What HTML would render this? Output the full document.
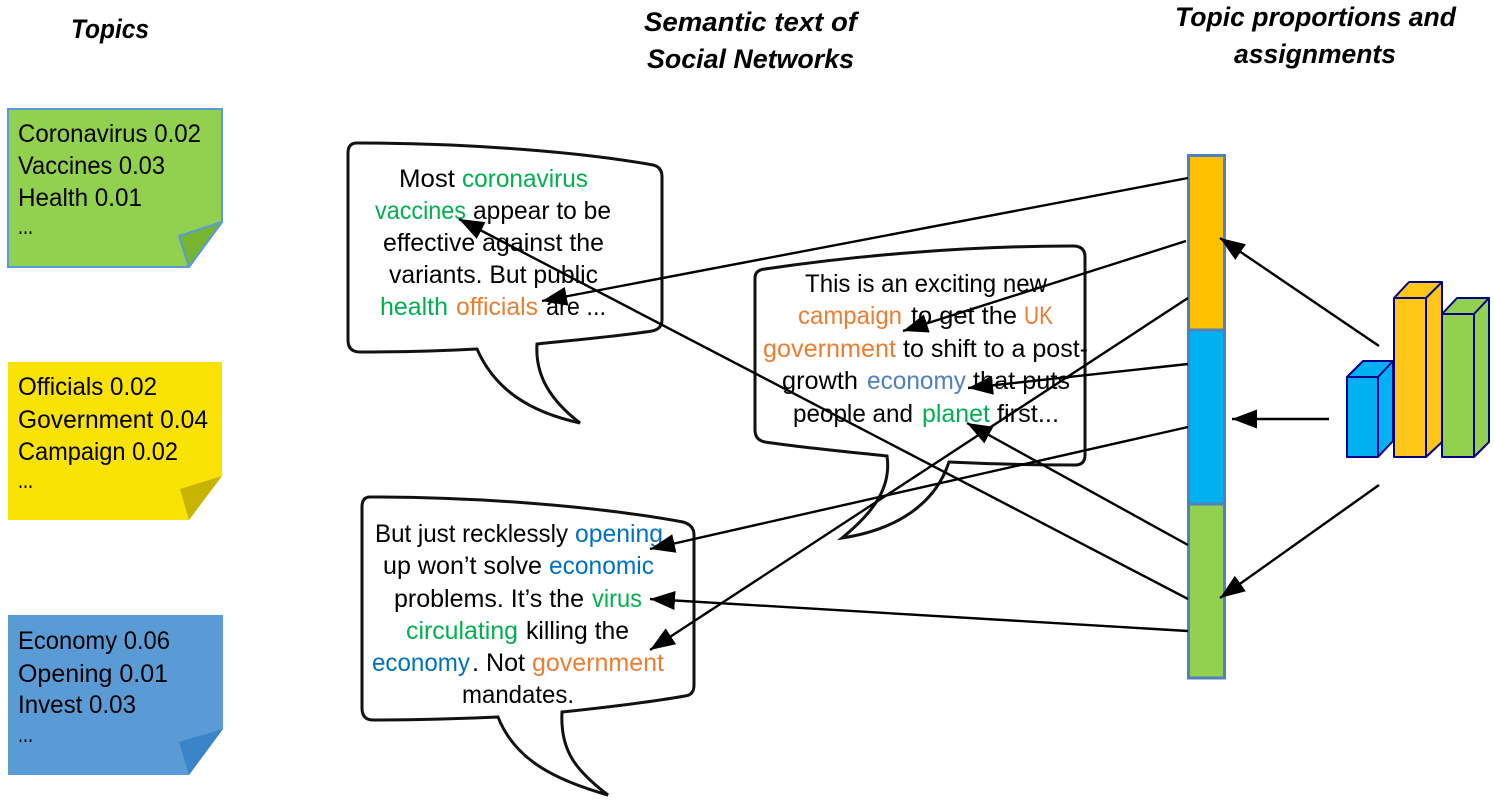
<!DOCTYPE html>
<html><head><meta charset="utf-8">
<style>
html,body{margin:0;padding:0;background:#fff;}
svg{display:block;filter:blur(0.3px);}
text{font-family:"Liberation Sans",sans-serif;font-size:25px;fill:#000;}
.t{font-weight:bold;font-style:italic;font-size:27px;fill:#000;}
.g{fill:#00b050;}.o{fill:#ed7d31;}.b{fill:#0070c0;}.e{fill:#4f81bd;}
.bub{fill:#fff;stroke:#111;stroke-width:3;stroke-linejoin:miter;}
.ln{stroke:#000;stroke-width:2.4;fill:none;}
.bar{stroke:#00008b;stroke-width:2;stroke-linejoin:round;}
</style></head>
<body>
<svg width="1494" height="807" viewBox="0 0 1494 807" xmlns="http://www.w3.org/2000/svg">
<defs><marker id="a" markerUnits="userSpaceOnUse" markerWidth="27" markerHeight="20" refX="25" refY="9.5" orient="auto"><path d="M0,0 L25,9.5 L0,19 Z" fill="#000"/></marker></defs>

<!-- titles -->
<text class="t" x="71" y="38" textLength="78" lengthAdjust="spacingAndGlyphs">Topics</text>
<text class="t" x="644" y="31" textLength="213" lengthAdjust="spacingAndGlyphs">Semantic text of</text>
<text class="t" x="647" y="68" textLength="207" lengthAdjust="spacingAndGlyphs">Social Networks</text>
<text class="t" x="1175" y="26" textLength="281" lengthAdjust="spacingAndGlyphs">Topic proportions and</text>
<text class="t" x="1234" y="63" textLength="162" lengthAdjust="spacingAndGlyphs">assignments</text>

<!-- sticky notes -->
<path d="M8,109 H222 V222 L189,267 H8 Z" fill="#92d050" stroke="#5b9bd5" stroke-width="2"/>
<path d="M222,222 L189,267 L179,236 Z" fill="#76b531" stroke="#5b9bd5" stroke-width="2" stroke-linejoin="round"/>
<text x="18" y="142" textLength="183" lengthAdjust="spacingAndGlyphs">Coronavirus 0.02</text>
<text x="18" y="174" textLength="147" lengthAdjust="spacingAndGlyphs">Vaccines 0.03</text>
<text x="18" y="206" textLength="124" lengthAdjust="spacingAndGlyphs">Health 0.01</text>
<text x="18" y="234" textLength="15" lengthAdjust="spacingAndGlyphs">...</text>

<path d="M8,362 H222 V476 L189,520 H8 Z" fill="#fae205"/>
<path d="M222,476 L189,520 L180,489 Z" fill="#c8b400"/>
<text x="18" y="395" textLength="139" lengthAdjust="spacingAndGlyphs">Officials 0.02</text>
<text x="18" y="428" textLength="190" lengthAdjust="spacingAndGlyphs">Government 0.04</text>
<text x="18" y="460" textLength="160" lengthAdjust="spacingAndGlyphs">Campaign 0.02</text>
<text x="18" y="488" textLength="15" lengthAdjust="spacingAndGlyphs">...</text>

<path d="M8,615 H223 V729 L189,775 H8 Z" fill="#5b9bd5"/>
<path d="M223,729 L189,775 L179,742 Z" fill="#3a84c9"/>
<text x="18" y="649" textLength="152" lengthAdjust="spacingAndGlyphs">Economy 0.06</text>
<text x="18" y="682" textLength="150" lengthAdjust="spacingAndGlyphs">Opening  0.01</text>
<text x="18" y="713" textLength="118" lengthAdjust="spacingAndGlyphs">Invest 0.03</text>
<text x="18" y="742" textLength="15" lengthAdjust="spacingAndGlyphs">...</text>

<!-- bubbles -->
<path class="bub" d="M357,143 C450,143 570,150 653,165 Q662,167 662,177 V320 Q662,329 652,331 C620,336 575,340 537,344 C535,375 550,400 580,423 C530,412 495,390 477,349 C440,351 400,352 360,352 Q348,352 348,340 V153 Q348,143 357,143 Z"/>
<path class="bub" d="M765,269 C860,255 970,246 1073,246 Q1085,246 1085,257 V455 Q1085,465 1075,465 C1030,465 990,464 949,462 C935,505 895,530 842,538 C870,515 892,490 887,456 C850,452 805,448 765,442 Q755,440 755,430 V278 Q755,270 765,269 Z"/>
<path class="bub" d="M370,497 C470,497 590,505 683,522 Q694,525 694,535 V685 Q694,695 685,696 C645,703 600,708 562,712 C560,750 575,770 608,795 C555,780 515,760 498,717 C455,719 415,720 373,720 Q362,720 362,708 V507 Q362,497 370,497 Z"/>

<!-- bubble 1 text -->
<text x="399" y="187" textLength="56" lengthAdjust="spacingAndGlyphs">Most</text>
<text class="g" x="462" y="187" textLength="126" lengthAdjust="spacingAndGlyphs">coronavirus</text>
<text class="g" x="375" y="219" textLength="91" lengthAdjust="spacingAndGlyphs">vaccines</text>
<text x="473" y="219" textLength="138" lengthAdjust="spacingAndGlyphs">appear to be</text>
<text x="383" y="251" textLength="221" lengthAdjust="spacingAndGlyphs">effective against the</text>
<text x="389" y="283" textLength="209" lengthAdjust="spacingAndGlyphs">variants. But public</text>
<text class="g" x="380" y="315" textLength="68" lengthAdjust="spacingAndGlyphs">health</text>
<text class="o" x="456" y="315" textLength="82" lengthAdjust="spacingAndGlyphs">officials</text>
<text x="546" y="315" textLength="60" lengthAdjust="spacingAndGlyphs">are ...</text>

<!-- bubble 2 text -->
<text x="805" y="292" textLength="242" lengthAdjust="spacingAndGlyphs">This is an exciting new</text>
<text class="o" x="798" y="324" textLength="104" lengthAdjust="spacingAndGlyphs">campaign</text>
<text x="911" y="324" textLength="106" lengthAdjust="spacingAndGlyphs">to get the</text>
<text class="o" x="1024" y="324" textLength="29" lengthAdjust="spacingAndGlyphs">UK</text>
<text class="o" x="763" y="357" textLength="133" lengthAdjust="spacingAndGlyphs">government</text>
<text x="903" y="357" textLength="185" lengthAdjust="spacingAndGlyphs">to shift to a post-</text>
<text x="782" y="389" textLength="76" lengthAdjust="spacingAndGlyphs">growth</text>
<text class="e" x="867" y="389" textLength="99" lengthAdjust="spacingAndGlyphs">economy</text>
<text x="973" y="389" textLength="97" lengthAdjust="spacingAndGlyphs">that puts</text>
<text x="793" y="422" textLength="120" lengthAdjust="spacingAndGlyphs">people and</text>
<text class="g" x="922" y="422" textLength="68" lengthAdjust="spacingAndGlyphs">planet</text>
<text x="997" y="422" textLength="62" lengthAdjust="spacingAndGlyphs">first...</text>

<!-- bubble 3 text -->
<text x="375" y="542" textLength="193" lengthAdjust="spacingAndGlyphs">But just recklessly</text>
<text class="b" x="575" y="542" textLength="88" lengthAdjust="spacingAndGlyphs">opening</text>
<text x="383" y="574" textLength="159" lengthAdjust="spacingAndGlyphs">up won’t solve</text>
<text class="b" x="549" y="574" textLength="105" lengthAdjust="spacingAndGlyphs">economic</text>
<text x="394" y="607" textLength="190" lengthAdjust="spacingAndGlyphs">problems. It’s the</text>
<text class="g" x="592" y="607" textLength="50" lengthAdjust="spacingAndGlyphs">virus</text>
<text class="g" x="406" y="639" textLength="112" lengthAdjust="spacingAndGlyphs">circulating</text>
<text x="526" y="639" textLength="103" lengthAdjust="spacingAndGlyphs">killing the</text>
<text class="b" x="372" y="671" textLength="98" lengthAdjust="spacingAndGlyphs">economy</text>
<text x="472" y="671" textLength="53" lengthAdjust="spacingAndGlyphs">. Not</text>
<text class="o" x="532" y="671" textLength="132" lengthAdjust="spacingAndGlyphs">government</text>
<text x="462" y="703" textLength="112" lengthAdjust="spacingAndGlyphs">mandates.</text>

<!-- stacked proportion bar -->
<rect x="1188.5" y="155.5" width="36" height="174.5" fill="#ffc000" stroke="#4f81bd" stroke-width="3"/>
<rect x="1188.5" y="330" width="36" height="174" fill="#00b0f0" stroke="#4f81bd" stroke-width="3"/>
<rect x="1188.5" y="504" width="36" height="174" fill="#92d050" stroke="#4f81bd" stroke-width="3"/>

<!-- 3D bars -->
<path class="bar" fill="#00b0f0" d="M1347,377 L1363,361 H1393 V441 L1378,457 H1347 Z M1347,377 H1378 V457 M1378,377 L1393,361"/>
<path class="bar" fill="#ffc618" d="M1394,298 L1409,282 H1442 V442 L1426,457 H1394 Z M1394,298 H1426 V457 M1426,298 L1442,282"/>
<path class="bar" fill="#92d050" d="M1442,314 L1457,298 H1489 V442 L1474,457 H1442 Z M1442,314 H1474 V457 M1474,314 L1489,298"/>

<!-- connectors -->
<line class="ln" x1="1379" y1="346" x2="1220" y2="238" marker-end="url(#a)"/>
<line class="ln" x1="1329" y1="419" x2="1232" y2="419" marker-end="url(#a)"/>
<line class="ln" x1="1379" y1="485" x2="1220" y2="598" marker-end="url(#a)"/>
<line class="ln" x1="1188" y1="178" x2="542" y2="301" marker-end="url(#a)"/>
<line class="ln" x1="1186" y1="241" x2="903" y2="331" marker-end="url(#a)"/>
<line class="ln" x1="1188" y1="298" x2="650" y2="650" marker-end="url(#a)"/>
<line class="ln" x1="1188" y1="364" x2="968" y2="388" marker-end="url(#a)"/>
<line class="ln" x1="1188" y1="427" x2="650" y2="549" marker-end="url(#a)"/>
<line class="ln" x1="1188" y1="545" x2="967" y2="423" marker-end="url(#a)"/>
<line class="ln" x1="1188" y1="599" x2="459" y2="219" marker-end="url(#a)"/>
<line class="ln" x1="1188" y1="631" x2="650" y2="599" marker-end="url(#a)"/>
</svg>
</body></html>
